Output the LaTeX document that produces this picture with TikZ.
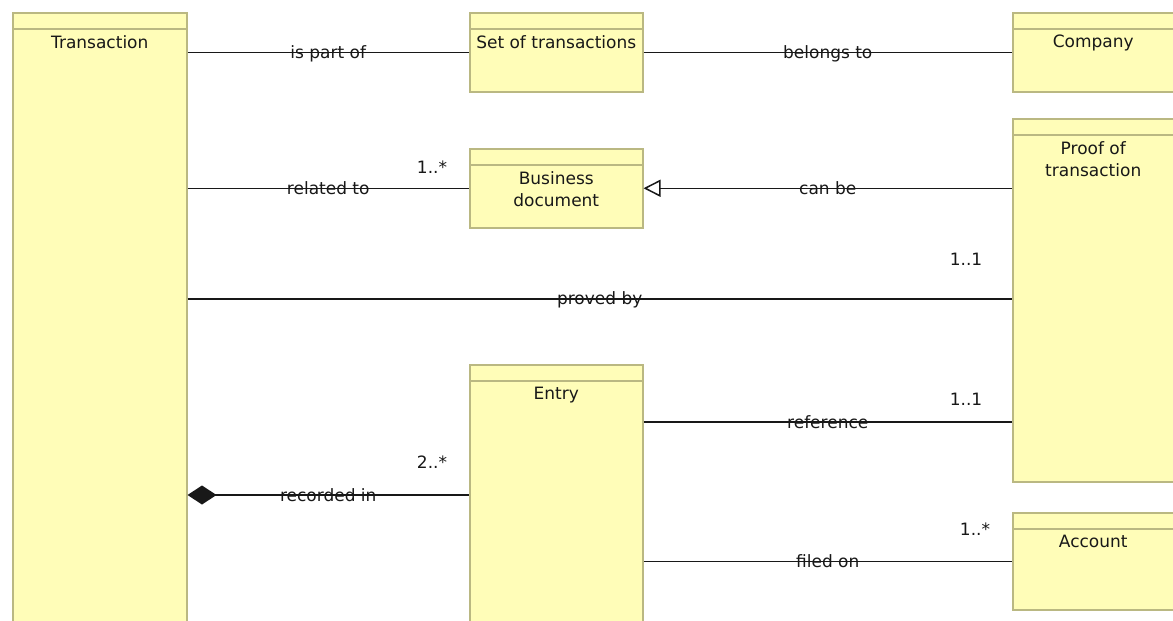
\documentclass[tikz,border=0pt]{standalone}
\usepackage{fontspec}
\setmainfont{DejaVu Sans}
\usetikzlibrary{arrows.meta,calc}
\definecolor{boxfill}{HTML}{FFFDB8}
\definecolor{boxline}{HTML}{BAB882}
\definecolor{ink}{HTML}{181818}
\begin{document}
\begin{tikzpicture}[x=1pt,y=-1pt,
  umlbox/.style={draw=boxline, fill=boxfill, line width=1.5pt, anchor=north west, inner sep=0pt},
  headline/.style={draw=boxline, line width=1.3pt},
  title/.style={font=\fontsize{17}{22}\selectfont, text=ink, anchor=north, inner sep=0pt, align=center},
  assoc/.style={draw=ink, line width=1.5pt},
  elabel/.style={font=\fontsize{17}{20}\selectfont, text=ink, inner sep=0pt, anchor=base, yshift=-6pt},
  mult/.style={font=\fontsize{17}{20}\selectfont, text=ink, inner sep=0pt, anchor=base}]
\useasboundingbox (0,0) rectangle (1173,621);
\fill[white] (0,0) rectangle (1173,621);

% boxes
\node[umlbox, minimum width=174pt, minimum height=640pt] (tr) at (12,12) {};
\node[umlbox, minimum width=173pt, minimum height=79pt] (st) at (469,12) {};
\node[umlbox, minimum width=175pt, minimum height=79pt] (co) at (1012,12) {};
\node[umlbox, minimum width=173pt, minimum height=79pt] (bd) at (469,148) {};
\node[umlbox, minimum width=175pt, minimum height=363pt] (pf) at (1012,118) {};
\node[umlbox, minimum width=173pt, minimum height=280pt] (en) at (469,364) {};
\node[umlbox, minimum width=175pt, minimum height=97pt] (ac) at (1012,512) {};

% header separators
\foreach \b in {tr,st,co,bd,pf,en,ac}
  \draw[headline] ($(\b.north west)+(0,17)$) -- ($(\b.north east)+(0,17)$);

% titles
\node[title] (trt) at ($(tr.north)+(0,23)$) {Transaction};
\node[title] (stt) at ($(st.north)+(0,23)$) {Set of transactions};
\node[title] (cot) at ($(co.north)+(-7,23)$) {Company};
\node[title] (bdt) at ($(bd.north)+(0,23)$) {Business\\document};
\node[title] (pft) at ($(pf.north)+(-7,23)$) {Proof of\\transaction};
\node[title] (ent) at ($(en.north)+(0,23)$) {Entry};
\node[title] (act) at ($(ac.north)+(-7,23)$) {Account};

\coordinate (refy) at (0,422);
\coordinate (recy) at (0,495);

% associations
\draw[assoc] (st.west -| tr.east) -- node[elabel, midway] {is part of} (st.west);
\draw[assoc] (st.east) -- node[elabel, midway] {belongs to} (co.west);
\draw[assoc] (bd.west -| tr.east) -- node[elabel, midway] {related to}
  node[mult, pos=1, xshift=-37pt, yshift=15pt] {1..*} (bd.west);
\draw[assoc, -{Triangle[open, length=17pt, width=17pt, fill=white]}] (bd.east -| pf.west) -- node[elabel, midway] {can be} (bd.east);
\draw[assoc] (pf.west -| tr.east) ++(0,-1.5) -- node[elabel, midway] {proved by}
  node[mult, pos=1, xshift=-46pt, yshift=33pt] {1..1} ($(pf.west)+(0,-1.5)$);
\draw[assoc] (en.east |- refy) -- node[elabel, midway] {reference}
  node[mult, pos=1, xshift=-46pt, yshift=17pt] {1..1} (pf.west |- refy);
\draw[assoc, {Diamond[length=29pt, width=19pt]}-] (tr.east |- recy) -- node[elabel, midway] {recorded in}
  node[mult, pos=1, xshift=-37pt, yshift=27pt] {2..*} (en.west |- recy);
\draw[assoc] (ac.west -| en.east) -- node[elabel, midway] {filed on}
  node[mult, pos=1, xshift=-37pt, yshift=26pt] {1..*} (ac.west);
\end{tikzpicture}
\end{document}
